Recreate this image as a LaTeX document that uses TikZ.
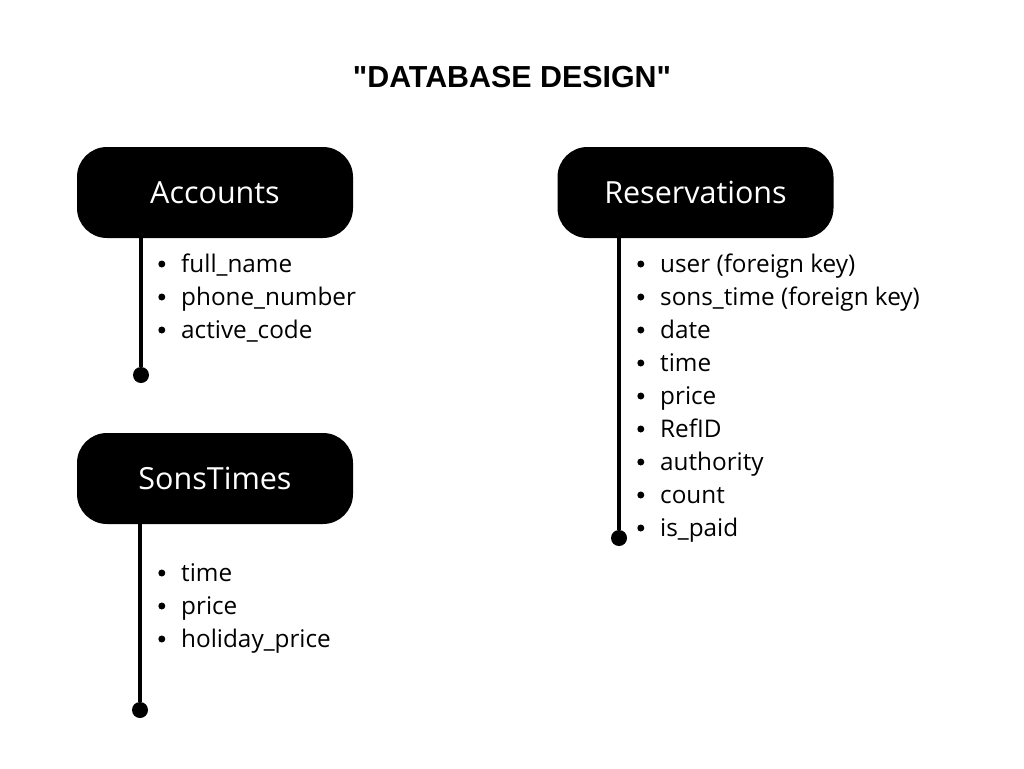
\documentclass[tikz,border=0pt]{standalone}
\usepackage{fontspec}
\setmainfont{Open Sans}
\newfontfamily\titlefont{Liberation Sans}
\usepackage{tikz}

\begin{document}
\begin{tikzpicture}[
  x=1pt, y=-1pt,
  table/.style={rectangle,fill=black,text=white,rounded corners=30pt,minimum width=276pt,minimum height=91pt,font=\fontsize{30.5}{34}\selectfont},
  field/.style={anchor=base west,inner sep=0pt,text height=17pt,text depth=5pt,font=\fontsize{24.3}{28}\selectfont,label={[circle,fill=black,inner sep=0pt,minimum size=7pt,label distance=15.5pt,yshift=2pt]left:{}}},
  enddot/.style={circle,fill=black,inner sep=0pt,minimum size=16pt},
  stem/.style={line width=4pt}
]
  \useasboundingbox (0,0) rectangle (1024,768);
  \node[anchor=base,font=\titlefont\bfseries\fontsize{30.4}{34}\selectfont] (title) at (512,87) {"DATABASE DESIGN"};

  \node[table] (accounts) at (215,192.5) {Accounts};
  \node[table] (reservations) at (695.5,192.5) {Reservations};
  \node[table] (sonstimes) at (215,478.5) {SonsTimes};

  \node[enddot] (accEnd) at (141,375) {};
  \node[enddot] (resEnd) at (619,538) {};
  \node[enddot] (sonEnd) at (140,710) {};
  \draw[stem] (accounts.south -| accEnd) -- (accEnd);
  \draw[stem] (reservations.south -| resEnd) -- (resEnd);
  \draw[stem] (sonstimes.south -| sonEnd) -- (sonEnd);

  \node[field] (acc1) at (181,272) {full\_name};
  \node[field] (acc2) at (181,305) {phone\_number};
  \node[field] (acc3) at (181,338) {active\_code};

  \node[field] (res1) at (660,272) {user (foreign key)};
  \node[field] (res2) at (660,305) {sons\_time (foreign key)};
  \node[field] (res3) at (660,338) {date};
  \node[field] (res4) at (660,371) {time};
  \node[field] (res5) at (660,404) {price};
  \node[field] (res6) at (660,437) {RefID};
  \node[field] (res7) at (660,470) {authority};
  \node[field] (res8) at (660,503) {count};
  \node[field] (res9) at (660,536) {is\_paid};

  \node[field] (son1) at (181,581) {time};
  \node[field] (son2) at (181,614) {price};
  \node[field] (son3) at (181,647) {holiday\_price};
\end{tikzpicture}
\end{document}
